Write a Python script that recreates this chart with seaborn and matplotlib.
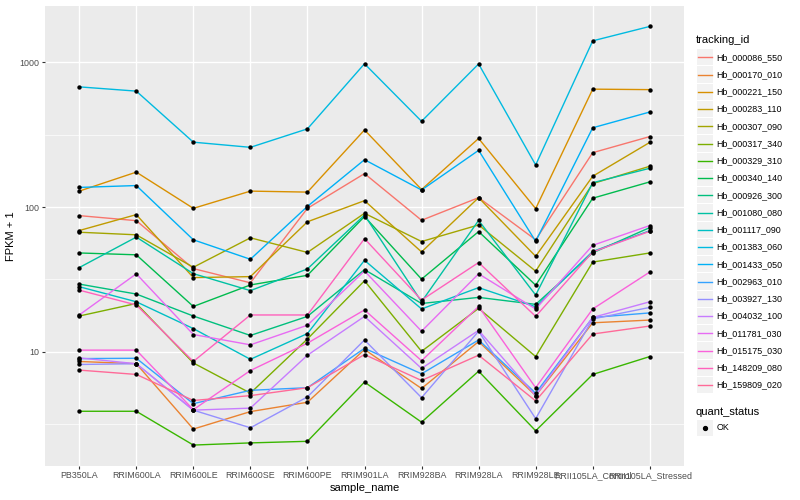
import numpy as np
import pandas as pd
import matplotlib
matplotlib.use('Agg')
import matplotlib.pyplot as plt
from matplotlib.patches import Rectangle
from matplotlib.lines import Line2D
from matplotlib.ticker import FixedLocator, NullFormatter
import seaborn as sns

# Samples on the x axis
samples = ['PB350LA', 'RRIM600LA', 'RRIM600LE', 'RRIM600SE', 'RRIM600PE', 'RRIM901LA',
           'RRIM928BA', 'RRIM928LA', 'RRIM928LE', 'RRII105LA_Control', 'RRII105LA_Stressed']

tracking_ids = ['Hb_000086_550', 'Hb_000170_010', 'Hb_000221_150', 'Hb_000283_110', 'Hb_000307_090',
                'Hb_000317_340', 'Hb_000329_310', 'Hb_000340_140', 'Hb_000926_300', 'Hb_001080_080',
                'Hb_001117_090', 'Hb_001383_060', 'Hb_001433_050', 'Hb_002963_010', 'Hb_003927_130',
                'Hb_004032_100', 'Hb_011781_030', 'Hb_015175_030', 'Hb_148209_080', 'Hb_159809_020']

# FPKM + 1 per gene, one value per sample
hb_000086_550 = [87.2, 80.5, 37.6, 30.0, 97.9, 170, 81, 116, 59.4, 237, 306]
hb_000170_010 = [8.6, 8.3, 2.94, 3.88, 4.5, 10.4, 5.6, 11.8, 5.0, 15.9, 16.6]
hb_000221_150 = [128.7, 174, 97.9, 128.7, 126.7, 340, 132, 297, 97.5, 650, 645]
hb_000283_110 = [68.8, 88.6, 32.6, 33.1, 79.1, 110.6, 49, 116, 45.7, 163, 279]
hb_000307_090 = [67, 64.3, 38.4, 61.3, 48.6, 90.5, 57.8, 75.2, 36.1, 145, 191]
hb_000317_340 = [17.7, 21.6, 8.4, 5.2, 12.3, 31, 10.1, 20.0, 9.3, 41.7, 48.2]
hb_000329_310 = [3.9, 3.9, 2.28, 2.36, 2.42, 6.2, 3.28, 7.37, 2.86, 7.0, 9.3]
hb_000340_140 = [48.2, 46.8, 20.6, 29.0, 33.8, 86, 31.8, 67.7, 28.9, 115, 149]
hb_000926_300 = [29.4, 25.1, 17.7, 13.0, 17.6, 37, 21.6, 23.8, 21.3, 48.3, 72.1]
hb_001080_080 = [38.2, 62, 34.7, 26.5, 37.4, 88, 22.2, 80.8, 24.7, 147, 185]
hb_001117_090 = [28.2, 22.2, 14.5, 8.9, 13.4, 42.9, 19.8, 27.8, 20.5, 49.4, 68.6]
hb_001383_060 = [674, 630, 280, 258, 346, 973, 390, 970, 195, 1400, 1760]
hb_001433_050 = [136.5, 140.6, 59.4, 43.6, 101, 212, 131, 246, 58, 352, 452]
hb_002963_010 = [9.0, 9.05, 4.4, 5.44, 5.67, 10.6, 7.07, 12.1, 5.2, 17.3, 18.6]
hb_003927_130 = [8.2, 8.3, 3.97, 3.0, 4.9, 12.1, 4.84, 13.9, 3.47, 16.9, 20.3]
hb_004032_100 = [9.1, 8.3, 3.97, 4.1, 9.5, 17.6, 7.7, 14.1, 5.0, 17.3, 22.2]
hb_011781_030 = [18.0, 34.6, 13.2, 11.2, 15.3, 36.2, 13.9, 34.6, 19.8, 54.4, 74.5]
hb_015175_030 = [10.3, 10.3, 4.0, 7.45, 11.5, 19.5, 8.7, 20.6, 5.67, 19.8, 35.6]
hb_148209_080 = [26.7, 21.1, 8.6, 18.0, 18.0, 60.5, 22.8, 41.4, 17.6, 49, 68]
hb_159809_020 = [7.5, 7.0, 4.63, 5.0, 5.67, 9.6, 6.36, 9.5, 4.6, 13.3, 15.1]

series = [hb_000086_550, hb_000170_010, hb_000221_150, hb_000283_110, hb_000307_090,
          hb_000317_340, hb_000329_310, hb_000340_140, hb_000926_300, hb_001080_080,
          hb_001117_090, hb_001383_060, hb_001433_050, hb_002963_010, hb_003927_130,
          hb_004032_100, hb_011781_030, hb_015175_030, hb_148209_080, hb_159809_020]

y_breaks = [10, 100, 1000]


def hcl_hex(h, c=100, l=65):
    # ggplot-style hue colour: polar Luv -> sRGB
    hr = np.deg2rad(h)
    u, v = c * np.cos(hr), c * np.sin(hr)
    xn, yn, zn = 95.047, 100.0, 108.883
    un = 4 * xn / (xn + 15 * yn + 3 * zn)
    vn = 9 * yn / (xn + 15 * yn + 3 * zn)
    Y = yn * ((l + 16) / 116) ** 3
    up = u / (13 * l) + un
    vp = v / (13 * l) + vn
    X = Y * 9 * up / (4 * vp)
    Z = Y * (12 - 3 * up - 20 * vp) / (4 * vp)
    X, Y, Z = X / 100, Y / 100, Z / 100
    rgb = np.array([3.2404542 * X - 1.5371385 * Y - 0.4985314 * Z,
                    -0.9692660 * X + 1.8760108 * Y + 0.0415560 * Z,
                    0.0556434 * X - 0.2040259 * Y + 1.0572252 * Z])
    rgb = np.where(rgb <= 0.0031308, 12.92 * rgb, 1.055 * np.clip(rgb, 0, None) ** (1 / 2.4) - 0.055)
    rgb = np.clip(rgb, 0, 1)
    return '#%02x%02x%02x' % tuple(int(round(x * 255)) for x in rgb)


n = len(tracking_ids)
hues = np.linspace(15, 375, n + 1)[:n]
colors = [hcl_hex(h) for h in hues]
palette = dict(zip(tracking_ids, colors))

# Long table for seaborn
rows = []
for tid, vals in zip(tracking_ids, series):
    for s, v in zip(samples, vals):
        rows.append((tid, s, v))
df = pd.DataFrame(rows, columns=['tracking_id', 'sample_name', 'fpkm'])

plt.rcParams['font.family'] = ['Liberation Sans', 'DejaVu Sans']

W, H = 800, 500
fig = plt.figure(figsize=(8, 5), dpi=100)
pl, pr, pt, pb = 45, 684, 5.5, 466
ax = fig.add_axes([pl / W, 1 - pb / H, (pr - pl) / W, (pb - pt) / H])
ax.set_facecolor('#EBEBEB')

sns.lineplot(data=df, x='sample_name', y='fpkm', hue='tracking_id', palette=palette,
             linewidth=1.0, legend=False, sort=False, ax=ax, zorder=2)
sns.scatterplot(data=df, x='sample_name', y='fpkm', color='black', s=10, linewidth=0,
                legend=False, ax=ax, zorder=3)

ax.set_yscale('log')
lo, hi = np.log10(df['fpkm'].min()), np.log10(df['fpkm'].max())
pad = 0.05 * (hi - lo)
ax.set_ylim(10 ** (lo - pad), 10 ** (hi + pad))
ax.set_xlim(-0.6, len(samples) - 0.4)

ax.yaxis.set_major_locator(FixedLocator(y_breaks))
ax.yaxis.set_minor_locator(FixedLocator([10 ** 0.5, 10 ** 1.5, 10 ** 2.5]))
ax.yaxis.set_minor_formatter(NullFormatter())
ax.set_yticklabels([str(b) for b in y_breaks])

ax.grid(True, which='major', color='white', linewidth=1.0, zorder=0)
ax.grid(True, which='minor', axis='y', color='white', linewidth=0.5, zorder=0)
ax.set_axisbelow(True)
for sp in ax.spines.values():
    sp.set_visible(False)
ax.tick_params(axis='both', which='major', length=2.2, width=0.8, color='#333333',
               labelsize=6.4, labelcolor='#4D4D4D', pad=1.6)
ax.tick_params(axis='y', which='minor', length=0)

ax.set_xlabel('sample_name', fontsize=8, labelpad=2)
ax.set_ylabel('FPKM + 1', fontsize=8, labelpad=3)


# Legend drawn in figure pixel coordinates, ggplot style
def fx(x):
    return x / W


def fy(y):
    return 1 - y / H


fig.text(fx(696), fy(40), 'tracking_id', fontsize=8, va='center', ha='left')
step = 17.25
for i, (tid, col) in enumerate(zip(tracking_ids, colors)):
    yc = 57.3 + i * step
    fig.patches.append(Rectangle((fx(696.5), fy(yc + 8.1)), 16.5 / W, 16.2 / H,
                                 transform=fig.transFigure, facecolor='#F2F2F2', edgecolor='none'))
    fig.lines.append(Line2D([fx(698), fx(711.5)], [fy(yc), fy(yc)], transform=fig.transFigure,
                            color=col, linewidth=1.0))
    fig.text(fx(716.5), fy(yc), tid, fontsize=6.4, va='center', ha='left')

fig.text(fx(696), fy(412), 'quant_status', fontsize=8, va='center', ha='left')
fig.patches.append(Rectangle((fx(696.5), fy(428 + 8.1)), 16.5 / W, 16.2 / H,
                             transform=fig.transFigure, facecolor='#F2F2F2', edgecolor='none'))
fig.lines.append(Line2D([fx(704.7)], [fy(428)], transform=fig.transFigure, color='black',
                        marker='o', markersize=2.8, linestyle='none'))
fig.text(fx(716.5), fy(428), 'OK', fontsize=6.4, va='center', ha='left')

plt.savefig('out.png', dpi=100)
plt.close('all')
